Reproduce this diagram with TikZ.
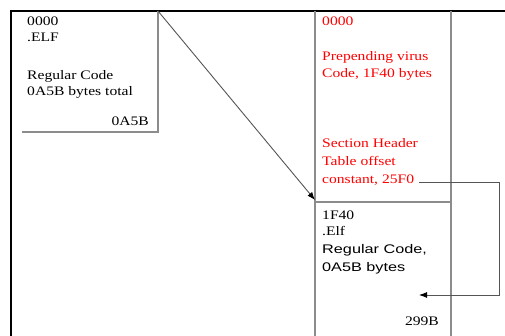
\documentclass[tikz,border=0pt]{standalone}
\usepackage{fontspec}
\usetikzlibrary{arrows.meta}
\newfontfamily\serwide[FakeStretch=1.2]{Liberation Serif}
\newfontfamily\sanwide[FakeStretch=1.3]{Liberation Sans}
\definecolor{boxgray}{HTML}{8C8C8C}
\definecolor{linegray}{HTML}{555555}
\tikzset{
  frame/.style={draw=black,line width=1.2pt},
  boxline/.style={draw=boxgray,line width=1.3pt},
  conn/.style={draw=linegray,line width=0.9pt,-{Latex[length=8pt,width=6pt,color=black]}},
  sertxt/.style={inner sep=0pt,font=\serwide\fontsize{13}{16}\selectfont},
  santxt/.style={inner sep=0pt,font=\sanwide\fontsize{12.5}{16}\selectfont},
  redtxt/.style={sertxt,text=red}
}
\begin{document}
\begin{tikzpicture}[x=1pt,y=-1pt]
\useasboundingbox (0,0) rectangle (505,336);
\fill[white] (0,0) rectangle (505,336);
% outer frame
\draw[frame] (505,11) -- (11,11) -- (11,336);
% left box
\coordinate (lbtr) at (158,11);
\draw[boxline] (22,132) -- (158,132) -- (lbtr);
% right column
\draw[boxline] (315,11) -- (315,336);
\draw[boxline] (451,11) -- (451,336);
\draw[boxline] (315,202) -- (451,202);
\coordinate (rdiv) at (315,200);
% left texts
\node[sertxt,anchor=base west] (l1) at (27,26) {0000};
\node[sertxt,anchor=base west] (l2) at (27,42) {.ELF};
\node[sertxt,anchor=base west] (l3) at (27,80) {Regular Code};
\node[sertxt,anchor=base west] (l4) at (27,96) {0A5B bytes total};
\node[sertxt,anchor=base east] (l5) at (149,126) {0A5B};
% right red texts
\node[redtxt,anchor=base west] (r1) at (322,26) {0000};
\node[redtxt,anchor=base west] (r2) at (322,61) {Prepending virus};
\node[redtxt,anchor=base west] (r3) at (322,78) {Code, 1F40 bytes};
\node[redtxt,anchor=base west] (r4) at (322,148) {Section Header};
\node[redtxt,anchor=base west] (r5) at (322,166) {Table offset};
\node[redtxt,anchor=base west] (r6) at (322,184) {constant, 25F0};
% lower texts
\node[sertxt,anchor=base west] (b1) at (322,220) {1F40};
\node[sertxt,anchor=base west] (b2) at (322,236) {.Elf};
\node[santxt,anchor=base west] (b3) at (322,254) {Regular Code,};
\node[santxt,anchor=base west] (b4) at (322,272) {0A5B bytes};
\node[sertxt,anchor=base east] (b5) at (439,325) {299B};
% connectors
\draw[conn] (lbtr) -- (rdiv);
\coordinate (cs) at (419,182);
\coordinate (ce) at (419,295);
\draw[conn] (cs) -- (499,182) -- (499,295) -- (ce);
\end{tikzpicture}
\end{document}
